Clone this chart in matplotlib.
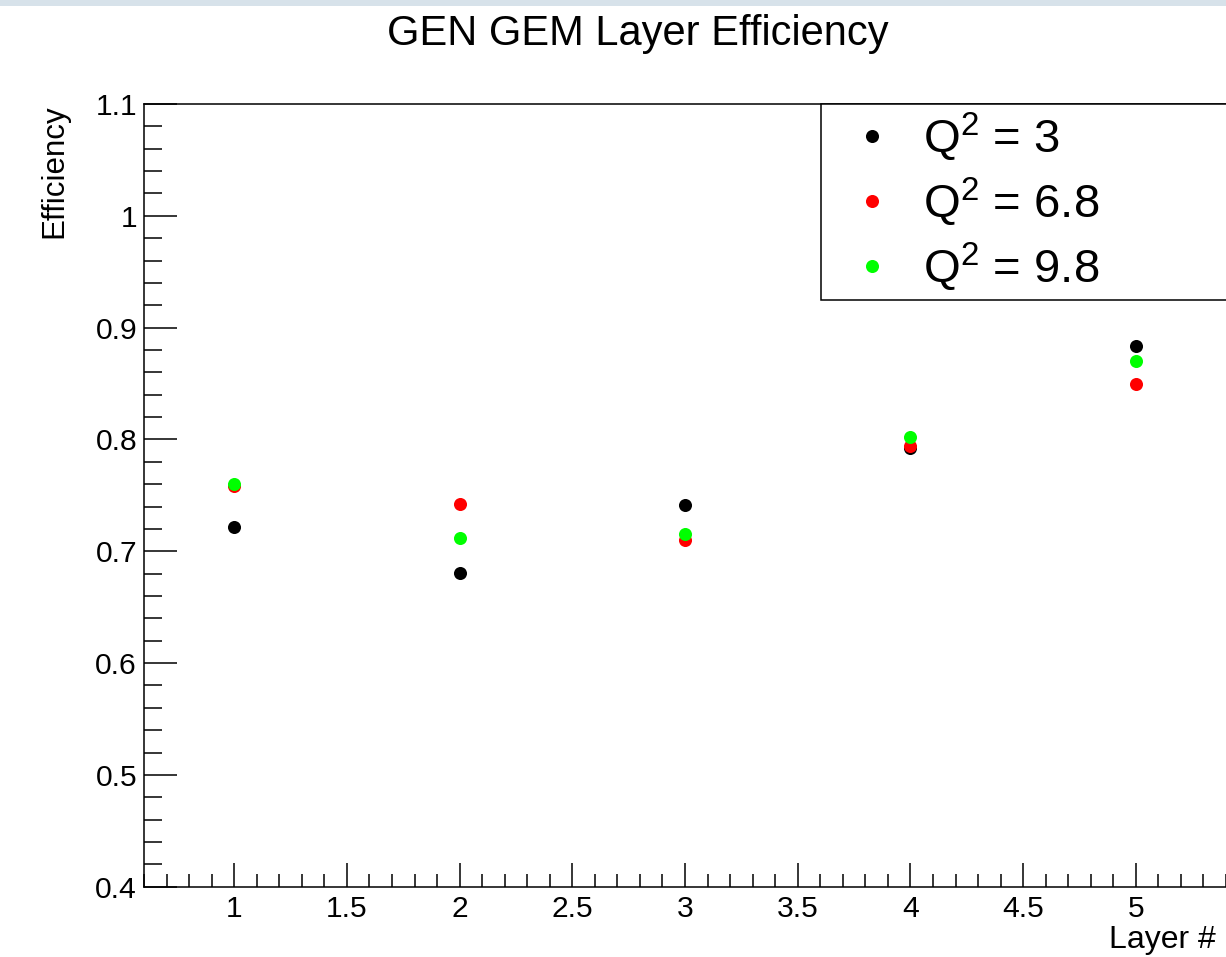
"""
Layer-by-layer efficiency of the GEN GEM tracker for three Q^2 settings.

Draws one marker per layer and per Q^2 setting, ROOT-style: plain white
frame, inward ticks, legend box in the top-right corner.
"""

import matplotlib
matplotlib.use("Agg")
import matplotlib.pyplot as plt
from matplotlib.patches import Rectangle
from matplotlib.ticker import FuncFormatter, MultipleLocator

plt.rcParams["font.family"] = ["Liberation Sans", "DejaVu Sans"]
plt.rcParams["mathtext.fontset"] = "custom"
plt.rcParams["mathtext.rm"] = "Liberation Sans"
plt.rcParams["mathtext.it"] = "Liberation Sans:italic"

# Layer numbers and the measured efficiency per Q^2 setting
LAYERS = [1, 2, 3, 4, 5]
EFF_Q2_3 = [0.722, 0.681, 0.741, 0.7925, 0.884]
EFF_Q2_6_8 = [0.758, 0.742, 0.710, 0.7945, 0.850]
EFF_Q2_9_8 = [0.760, 0.7115, 0.715, 0.802, 0.870]

SERIES = [
    (EFF_Q2_3, "black", r"$\mathregular{Q^{2}}$ = 3"),
    (EFF_Q2_6_8, "#ff0000", r"$\mathregular{Q^{2}}$ = 6.8"),
    (EFF_Q2_9_8, "#00ff00", r"$\mathregular{Q^{2}}$ = 9.8"),
]

W, H = 1226, 957


def main() -> None:
    fig = plt.figure(figsize=(W / 100, H / 100), dpi=100)
    ax = fig.add_axes([144 / W, (H - 886.7) / H, (W - 144) / W, 782.7 / H])

    for values, color, label in SERIES:
        ax.plot(LAYERS, values, linestyle="none", marker="o", markersize=9.4,
                markeredgewidth=0, color=color, label=label)

    ax.set_xlim(0.6, 5.4)
    ax.set_ylim(0.4, 1.1)

    fmt = FuncFormatter(lambda v, _: f"{v:g}")
    ax.xaxis.set_major_locator(MultipleLocator(0.5))
    ax.xaxis.set_minor_locator(MultipleLocator(0.1))
    ax.yaxis.set_major_locator(MultipleLocator(0.1))
    ax.yaxis.set_minor_locator(MultipleLocator(0.02))
    ax.xaxis.set_major_formatter(fmt)
    ax.yaxis.set_major_formatter(fmt)

    ax.tick_params(which="both", direction="in", width=1.1, colors="black")
    ax.tick_params(labelsize=21.6)
    ax.tick_params(axis="x", which="major", length=17.3, pad=6)
    ax.tick_params(axis="x", which="minor", length=9.4)
    ax.tick_params(axis="y", which="major", length=23.8, pad=5)
    ax.tick_params(axis="y", which="minor", length=13)

    for side in ("left", "bottom", "top"):
        ax.spines[side].set_linewidth(1.1)
    ax.spines["right"].set_visible(False)

    # axis titles sit at the far end of each axis
    ax.set_xlabel("Layer #", fontsize=23, loc="right")
    ax.xaxis.set_label_coords((1216 - 144) / 1082, -(924.7 - 886.7) / 782.7)
    ax.set_ylabel("Efficiency", fontsize=22.5, loc="top")
    ax.yaxis.set_label_coords((69 - 144) / 1082, 1.0)

    ax.set_title("GEN GEM Layer Efficiency", fontsize=30,
                 x=(638 - 144) / 1082, y=(886.7 - 53.5) / 782.7, va="baseline")

    leg = ax.legend(loc="upper left", bbox_to_anchor=((821 - 144) / 1082, 0, 0.45, 1.0),
                    mode="expand", borderaxespad=0, fontsize=34, numpoints=1,
                    handlelength=1.85, handletextpad=0.15, borderpad=0.15,
                    labelspacing=0.27, fancybox=False, framealpha=1)
    leg.get_frame().set_edgecolor("black")
    leg.get_frame().set_linewidth(1.1)

    # thin window strip along the top edge
    fig.add_artist(Rectangle((0, 1 - 6 / H), 1, 6 / H, transform=fig.transFigure,
                             facecolor="#d7e2ea", edgecolor="none"))

    fig.savefig("out.png", dpi=100)


if __name__ == "__main__":
    main()
